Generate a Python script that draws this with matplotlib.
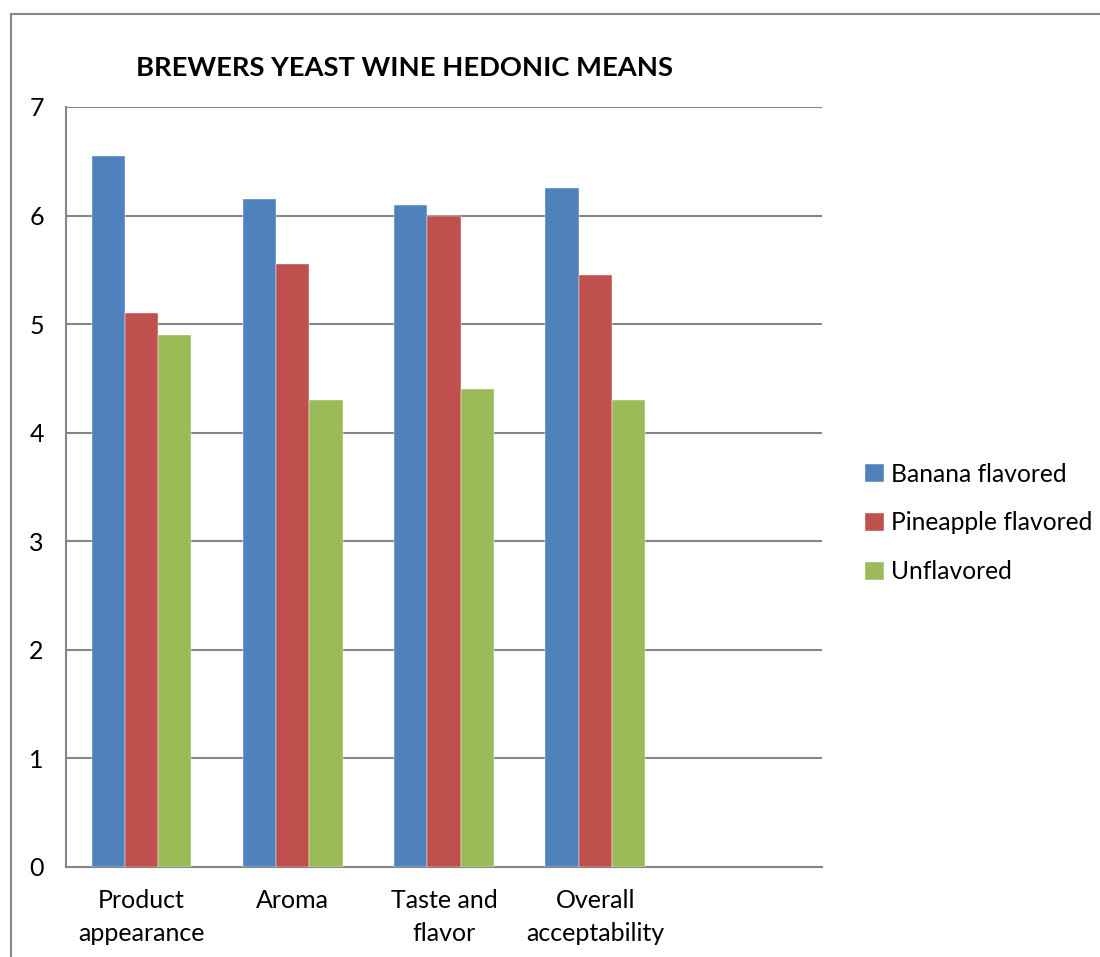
import matplotlib
matplotlib.use("Agg")
import matplotlib.pyplot as plt
from matplotlib.patches import Rectangle
import numpy as np

categories = ["Product\nappearance", "Aroma", "Taste and\nflavor", "Overall\nacceptability"]
series_names = ["Banana flavored", "Pineapple flavored", "Unflavored"]
banana = [6.55, 6.15, 6.10, 6.25]
pineapple = [5.10, 5.55, 6.00, 5.45]
unflavored = [4.90, 4.30, 4.40, 4.30]
y_ticks = [0, 1, 2, 3, 4, 5, 6, 7]
title = "BREWERS YEAST WINE HEDONIC MEANS"

colors = ["#4F81BD", "#C0504D", "#9BBB59"]
grid_col = "#868686"

plt.rcParams["font.family"] = ["Lato", "DejaVu Sans"]

fig = plt.figure(figsize=(11, 9.57), dpi=100)
ax = fig.add_axes([66 / 1100, 1 - 867 / 957, (822 - 66) / 1100, (867 - 107) / 957])

x = np.arange(len(categories))
w = 0.22
for i, (vals, name, c) in enumerate(zip([banana, pineapple, unflavored], series_names, colors)):
    ax.bar(x + (i - 1) * w, vals, width=w, color=c, label=name, zorder=3,
           edgecolor="white", linewidth=0.3)

ax.set_xlim(-0.5, 4.5)
ax.set_ylim(0, 7)
ax.set_yticks(y_ticks)
ax.set_yticklabels([str(t) for t in y_ticks], fontsize=18)
ax.set_xticks(x)
ax.set_xticklabels(categories, fontsize=18, linespacing=1.5)
ax.tick_params(axis="both", length=0)
ax.tick_params(axis="y", pad=16)
ax.tick_params(axis="x", pad=16)
ax.yaxis.grid(True, color=grid_col, linewidth=1.5, zorder=0)
for s in ["top", "right"]:
    ax.spines[s].set_visible(False)
for s in ["left", "bottom"]:
    ax.spines[s].set_color(grid_col)
    ax.spines[s].set_linewidth(1.5)

fig.text(404 / 1100, 1 - 68 / 957, title, ha="center", va="center",
         fontsize=19.7, fontweight="bold")

leg = fig.legend(loc="center left", bbox_to_anchor=(843 / 1100, 1 - 523 / 957),
                 frameon=False, fontsize=17.7, handlelength=0.75, handleheight=0.75,
                 handletextpad=0.3, labelspacing=1.05)

# outer chart border
fig.patches.append(Rectangle((11 / 1100, -0.05), 1.2, 1.05 - 14 / 957,
                             transform=fig.transFigure, fill=False,
                             edgecolor="#888888", linewidth=1.5))

fig.savefig("out.png", dpi=100)
